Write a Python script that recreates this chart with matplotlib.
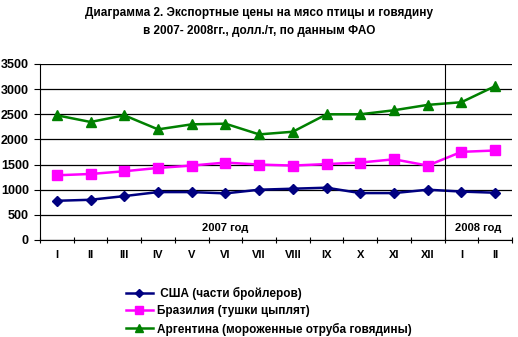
import matplotlib
matplotlib.use("Agg")
import matplotlib.pyplot as plt
import numpy as np

plt.rcParams['font.family'] = ['Liberation Sans', 'DejaVu Sans']
plt.rcParams['font.weight'] = 'bold'

# Месяцы 2007-2008 гг.
months = ['I', 'II', 'III', 'IV', 'V', 'VI', 'VII', 'VIII', 'IX', 'X', 'XI', 'XII', 'I', 'II']

# Экспортные цены, долл./т
usa = [780, 800, 873, 953, 953, 927, 1000, 1020, 1040, 933, 933, 1000, 963, 940]
brazil = [1287, 1313, 1367, 1433, 1480, 1540, 1500, 1480, 1510, 1540, 1605, 1480, 1753, 1780]
argentina = [2480, 2347, 2480, 2200, 2300, 2313, 2100, 2153, 2500, 2500, 2580, 2687, 2740, 3060]

series_names = [' США (части бройлеров)', 'Бразилия (тушки цыплят)',
                'Аргентина (мороженные отруба говядины)']

fig = plt.figure(figsize=(5.18, 3.37), dpi=100)
ax = fig.add_axes([40 / 518, 97 / 337, 472 / 518, 176 / 337])

x = np.arange(len(months))
ax.plot(x, usa, color='#000080', lw=1.8, marker='D', ms=5, label=series_names[0])
ax.plot(x, brazil, color='#FF00FF', lw=1.8, marker='s', ms=7, label=series_names[1])
ax.plot(x, argentina, color='#008000', lw=1.8, marker='^', ms=7.5, label=series_names[2])

ax.set_xlim(-0.5, len(months) - 0.5)
ax.set_ylim(0, 3500)
ax.set_yticks(np.arange(0, 3501, 500))
ax.yaxis.grid(True, color='black', lw=0.9)
ax.set_axisbelow(True)

# граница между 2007 и 2008 годом
ax.axvline(11.5, color='black', lw=0.8)

ax.set_xticks(np.arange(-0.5, len(months), 1))
ax.set_xticklabels([])
ax.set_xticks(x, minor=True)
ax.set_xticklabels(months, minor=True, fontsize=8, fontweight='bold')
ax.tick_params(axis='x', which='major', length=4, width=0.8, direction='inout')
ax.tick_params(axis='x', which='minor', length=0, pad=7)
ax.tick_params(axis='y', length=4, width=0.8, labelsize=9, pad=4)
for lbl in ax.get_yticklabels():
    lbl.set_fontweight('bold')

for side in ['top', 'right']:
    ax.spines[side].set_visible(False)

ax.text(5, 240, '2007 год', ha='center', va='center', fontsize=8, fontweight='bold')
ax.text(12.5, 240, '2008 год', ha='center', va='center', fontsize=8, fontweight='bold')

fig.text(0.5, 0.98, 'Диаграмма 2. Экспортные цены на мясо птицы и говядину\nв 2007- 2008гг., долл./т, по данным ФАО',
         ha='center', va='top', fontsize=8.5, fontweight='bold', linespacing=1.65)

fig.legend(loc='upper left', bbox_to_anchor=(120 / 518, 1 - 281 / 337), frameon=False,
           handlelength=2.3, handletextpad=0.3, labelspacing=0.45, markerscale=0.75,
           borderpad=0, prop={'weight': 'bold', 'size': 8.5})

fig.savefig('out.png', dpi=100)
